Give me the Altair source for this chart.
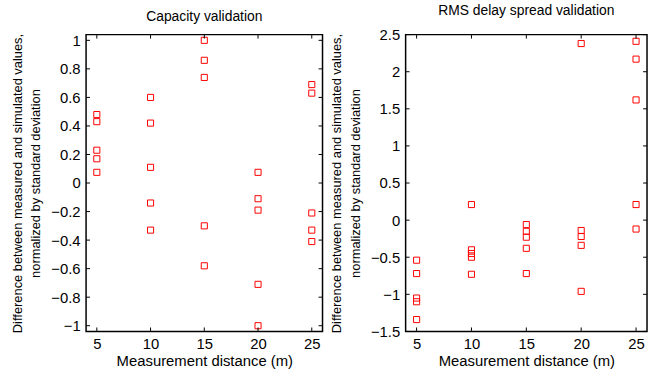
import altair as alt
import pandas as pd

# Capacity validation
cap_x = [5, 5, 5, 5, 5,
         10, 10, 10, 10, 10,
         15, 15, 15, 15, 15,
         20, 20, 20, 20, 20,
         25, 25, 25, 25, 25]
cap_y = [0.48, 0.43, 0.23, 0.17, 0.075,
         0.60, 0.42, 0.11, -0.14, -0.33,
         1.00, 0.86, 0.74, -0.30, -0.58,
         0.075, -0.11, -0.19, -0.71, -1.00,
         0.69, 0.63, -0.21, -0.33, -0.41]

# RMS delay spread validation
rms_x = [5, 5, 5, 5, 5,
         10, 10, 10, 10, 10,
         15, 15, 15, 15, 15,
         20, 20, 20, 20, 20,
         25, 25, 25, 25, 25]
rms_y = [-0.54, -0.72, -1.05, -1.10, -1.34,
         0.21, -0.40, -0.45, -0.50, -0.73,
         -0.06, -0.15, -0.23, -0.38, -0.72,
         2.38, -0.14, -0.22, -0.34, -0.96,
         2.41, 2.17, 1.62, 0.21, -0.12]

x_ticks = [5, 10, 15, 20, 25]
cap_ticks = [-1, -0.8, -0.6, -0.4, -0.2, 0, 0.2, 0.4, 0.6, 0.8, 1]
rms_ticks = [-1.5, -1, -0.5, 0, 0.5, 1, 1.5, 2, 2.5]

x_domain = [4, 26]
cap_domain = [-1.04, 1.04]
rms_domain = [-1.5, 2.5]

H = 300
FONT = "Liberation Sans"
TL = 4
Y_TITLE = ["Difference between measured and simulated values,",
           "normalized by standard deviation"]


def panel(xs, ys, yticks, ydomain, title, W):
    df = pd.DataFrame({"x": xs, "y": ys})
    xs_scale = alt.Scale(domain=x_domain, nice=False, zero=False)
    ys_scale = alt.Scale(domain=ydomain, nice=False, zero=False)
    x_enc = alt.X("x:Q", scale=xs_scale, title="Measurement distance (m)",
                  axis=alt.Axis(values=x_ticks, ticks=False, grid=False, domain=False,
                                labelPadding=5, format="~g", titlePadding=2))
    y_enc = alt.Y("y:Q", scale=ys_scale, title=Y_TITLE,
                  axis=alt.Axis(values=yticks, ticks=False, grid=False, domain=False,
                                labelPadding=6, format="~g", titlePadding=8))
    pts = alt.Chart(df).mark_point(
        shape="square", filled=False, color="#ff0000", size=38, strokeWidth=1, opacity=1
    ).encode(x=x_enc, y=y_enc)
    xt = pd.DataFrame({"x": x_ticks})
    yt = pd.DataFrame({"y": yticks})
    top = alt.Chart(xt).mark_rule(color="black", strokeWidth=1).encode(
        x=x_enc, y=alt.value(0), y2=alt.value(TL))
    bot = alt.Chart(xt).mark_rule(color="black", strokeWidth=1).encode(
        x=x_enc, y=alt.value(H - TL), y2=alt.value(H))
    left = alt.Chart(yt).mark_rule(color="black", strokeWidth=1).encode(
        y=y_enc, x=alt.value(0), x2=alt.value(TL))
    right = alt.Chart(yt).mark_rule(color="black", strokeWidth=1).encode(
        y=y_enc, x=alt.value(W - TL), x2=alt.value(W))
    return alt.layer(pts, top, bot, left, right).properties(
        width=W, height=H,
        title=alt.TitleParams(title, fontSize=14, font=FONT, fontWeight="normal",
                              color="black", offset=10, anchor="middle"),
    )


chart = alt.hconcat(
    panel(cap_x, cap_y, cap_ticks, cap_domain, "Capacity validation", 239),
    panel(rms_x, rms_y, rms_ticks, rms_domain, "RMS delay spread validation", 244),
    spacing=5,
).properties(
    padding={"left": 10, "top": 1, "right": 0, "bottom": 0},
    background="white",
).configure_view(
    stroke="black", strokeWidth=1.5
).configure_axis(
    labelFont=FONT, titleFont=FONT, labelColor="black", titleColor="black",
    labelFontSize=15, titleFontWeight="normal",
).configure_axisX(
    titleFontSize=15,
).configure_axisY(
    titleFontSize=13, titleLineHeight=19,
)

chart.save("out.html", embed_options={"renderer": "svg", "actions": False})
